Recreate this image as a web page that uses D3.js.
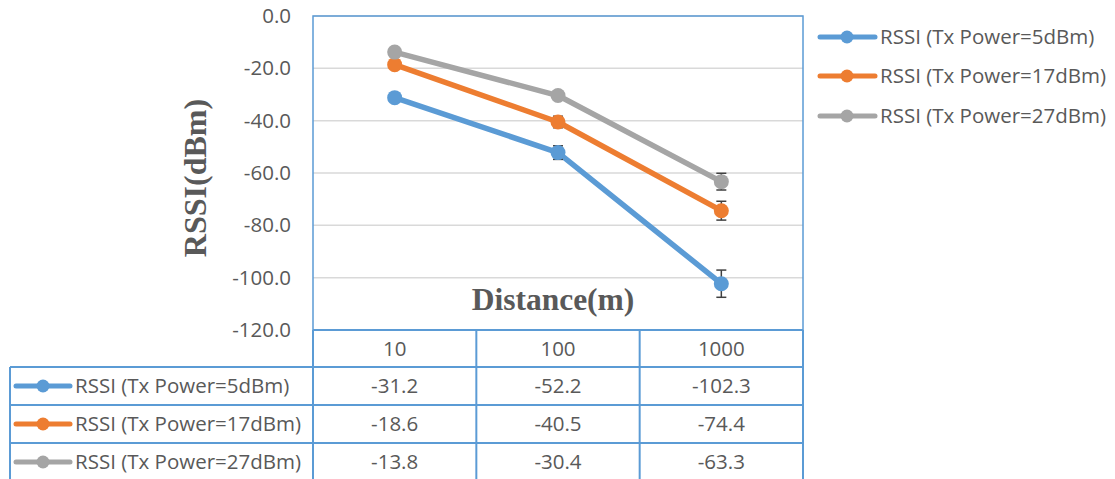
<!DOCTYPE html>
<html><head><meta charset="utf-8">
<script src="https://cdn.jsdelivr.net/npm/d3@7"></script>
<style>body{margin:0;background:#fff;} svg{display:block;}</style>
</head><body>
<svg id="chart" width="1115" height="479"></svg>
<script>
const categories = ["10", "100", "1000"];
const seriesNames = ["RSSI (Tx Power=5dBm)", "RSSI (Tx Power=17dBm)", "RSSI (Tx Power=27dBm)"];
const rssi5 = [-31.2, -52.2, -102.3];
const rssi17 = [-18.6, -40.5, -74.4];
const rssi27 = [-13.8, -30.4, -63.3];
const err5 = [0.5, 2.6, 5.2];
const err17 = [0.5, 2.2, 3.6];
const err27 = [0.5, 0.8, 3.2];
const yTicks = [0, -20, -40, -60, -80, -100, -120];
const colors = ["#5B9BD5", "#ED7D31", "#A5A5A5"];

const series = [
  {name: seriesNames[0], values: rssi5, err: err5, color: colors[0]},
  {name: seriesNames[1], values: rssi17, err: err17, color: colors[1]},
  {name: seriesNames[2], values: rssi27, err: err27, color: colors[2]}
];

const svg = d3.select("#chart");
const L = 313, R = 803, T = 16, B = 330;
const textColor = "#595959";
const borderColor = "#5B9BD5";
const font = "'Open Sans', sans-serif";
const fs = 20.5;

const x = d3.scaleBand().domain(categories).range([L, R]);
const y = d3.scaleLinear().domain([-120, 0]).range([B, T]);

// gridlines
svg.append("g").selectAll("line").data(yTicks).join("line")
  .attr("x1", L).attr("x2", R).attr("y1", d => y(d)).attr("y2", d => y(d))
  .attr("stroke", "#D9D9D9").attr("stroke-width", 1.5);

// y axis labels
const yAxis = d3.axisLeft(y).tickValues(yTicks).tickFormat(d3.format(".1f")).tickSize(0).tickPadding(22);
const gy = svg.append("g").attr("transform", `translate(${L},0)`).call(yAxis);
gy.select(".domain").remove();
gy.selectAll("text").attr("font-family", font).attr("font-size", fs).attr("fill", textColor)
  .text(d => d3.format(".1f")(d).replace("−", "-"));

// plot border
svg.append("rect").attr("x", L).attr("y", T).attr("width", R - L).attr("height", B - T)
  .attr("fill", "none").attr("stroke", borderColor).attr("stroke-width", 1.5);

// axis titles
svg.append("text").attr("transform", "translate(206,178) rotate(-90)")
  .attr("text-anchor", "middle").attr("font-family", "'Liberation Serif', 'Times New Roman', serif")
  .attr("font-weight", "bold").attr("font-size", 32).attr("fill", textColor).text("RSSI(dBm)");
svg.append("text").attr("x", 553).attr("y", 310)
  .attr("text-anchor", "middle").attr("font-family", "'Liberation Serif', 'Times New Roman', serif")
  .attr("font-weight", "bold").attr("font-size", 31.5).attr("fill", textColor).text("Distance(m)");

// lines
const line = d3.line().x((d, i) => x(categories[i]) + x.bandwidth() / 2).y(d => y(d));
const sg = svg.append("g").selectAll("g").data(series).join("g");
sg.append("path").attr("d", d => line(d.values)).attr("fill", "none")
  .attr("stroke", d => d.color).attr("stroke-width", 5.5).attr("stroke-linejoin", "round");

// error bars
const eb = svg.append("g");
series.forEach(s => {
  s.values.forEach((v, i) => {
    const cx = x(categories[i]) + x.bandwidth() / 2;
    const y1 = y(v + s.err[i]), y2 = y(v - s.err[i]);
    eb.append("line").attr("x1", cx).attr("x2", cx).attr("y1", y1).attr("y2", y2).attr("stroke", "#404040").attr("stroke-width", 1.5);
    [y1, y2].forEach(yy => eb.append("line").attr("x1", cx - 5).attr("x2", cx + 5).attr("y1", yy).attr("y2", yy).attr("stroke", "#404040").attr("stroke-width", 1.5));
  });
});

// markers
series.forEach(s => {
  svg.append("g").selectAll("circle").data(s.values).join("circle")
    .attr("cx", (d, i) => x(categories[i]) + x.bandwidth() / 2).attr("cy", d => y(d))
    .attr("r", 7.5).attr("fill", s.color);
});

// legend (right)
const legY = [37, 76, 116];
series.forEach((s, i) => {
  const g = svg.append("g").attr("transform", `translate(0,${legY[i]})`);
  g.append("line").attr("x1", 820).attr("x2", 875).attr("y1", 0).attr("y2", 0).attr("stroke", s.color).attr("stroke-width", 5).attr("stroke-linecap", "round");
  g.append("circle").attr("cx", 847).attr("cy", 0).attr("r", 6.5).attr("fill", s.color);
  g.append("text").attr("x", 880).attr("y", 0).attr("dy", "0.35em").attr("font-family", font).attr("font-size", fs).attr("fill", textColor).text(s.name);
});

// data table
const rowTops = [330, 367, 405, 443, 481];
const tb = svg.append("g");
categories.forEach(c => {
  tb.append("text").attr("x", x(c) + x.bandwidth() / 2).attr("y", (rowTops[0] + rowTops[1]) / 2).attr("dy", "0.35em")
    .attr("text-anchor", "middle").attr("font-family", font).attr("font-size", fs).attr("fill", textColor).text(c);
});
series.forEach((s, i) => {
  const cy = (rowTops[i + 1] + rowTops[i + 2]) / 2;
  tb.append("line").attr("x1", 16).attr("x2", 70).attr("y1", cy).attr("y2", cy).attr("stroke", s.color).attr("stroke-width", 5).attr("stroke-linecap", "round");
  tb.append("circle").attr("cx", 43).attr("cy", cy).attr("r", 6.5).attr("fill", s.color);
  tb.append("text").attr("x", 75).attr("y", cy).attr("dy", "0.35em").attr("font-family", font).attr("font-size", fs).attr("fill", textColor).text(s.name);
  s.values.forEach((v, j) => {
    tb.append("text").attr("x", x(categories[j]) + x.bandwidth() / 2).attr("y", cy).attr("dy", "0.35em")
      .attr("text-anchor", "middle").attr("font-family", font).attr("font-size", fs).attr("fill", textColor).text(v.toFixed(1));
  });
});
tb.append("line").attr("x1", L).attr("x2", R).attr("y1", rowTops[0]).attr("y2", rowTops[0]).attr("stroke", borderColor).attr("stroke-width", 2);
rowTops.slice(1).forEach(t => tb.append("line").attr("x1", 10).attr("x2", R).attr("y1", t).attr("y2", t).attr("stroke", borderColor).attr("stroke-width", 2));
[L, x("100"), x("1000"), R].forEach(xx => tb.append("line").attr("x1", xx).attr("x2", xx).attr("y1", rowTops[0]).attr("y2", 481).attr("stroke", borderColor).attr("stroke-width", 2));
tb.append("line").attr("x1", 10).attr("x2", 10).attr("y1", rowTops[1]).attr("y2", 481).attr("stroke", borderColor).attr("stroke-width", 2);
</script>
</body></html>
